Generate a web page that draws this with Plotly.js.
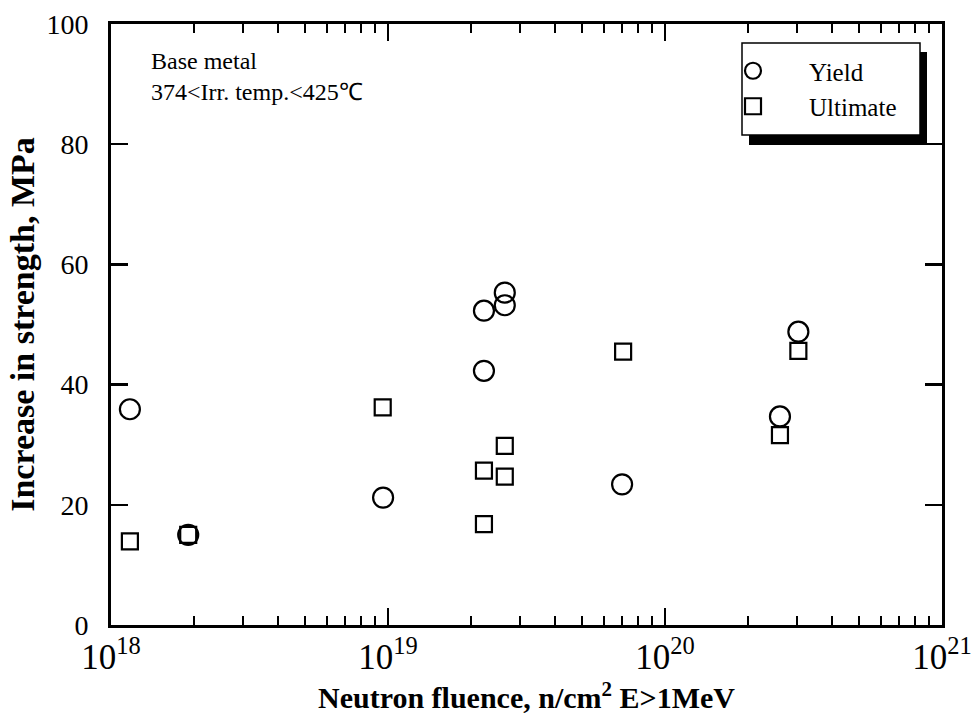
<!DOCTYPE html>
<html>
<head>
<meta charset="utf-8">
<script src="https://cdn.plot.ly/plotly-3.0.1.min.js"></script>
<style>html,body{margin:0;padding:0;background:#fff;}#chart{width:971px;height:716px;}</style>
</head>
<body>
<div id="chart"></div>
<script>
// Data
const yieldFluence = [1.17e18, 1.9e18, 9.6e18, 2.22e19, 2.22e19, 2.64e19, 2.64e19, 7.0e19, 2.6e20, 3.03e20];
const yieldIncrease = [35.9, 15.0, 21.2, 52.3, 42.3, 55.3, 53.2, 23.4, 34.7, 48.8];
const ultimateFluence = [1.17e18, 1.9e18, 9.57e18, 2.22e19, 2.22e19, 2.64e19, 2.64e19, 7.06e19, 2.6e20, 3.03e20];
const ultimateIncrease = [13.9, 15.0, 36.2, 25.7, 16.8, 29.8, 24.7, 45.5, 31.6, 45.6];
const seriesNames = ["Yield", "Ultimate"];
const noteLines = ["Base metal", "374<Irr. temp.<425℃"];

const serif = "Liberation Serif, Times New Roman, serif";

const traces = [
  {
    x: yieldFluence, y: yieldIncrease, name: seriesNames[0], legendgroup: "a",
    type: "scatter", mode: "markers",
    marker: {symbol: "circle-open", size: 20, color: "#000", line: {width: 2.2, color: "#000"}}
  },
  {
    x: ultimateFluence, y: ultimateIncrease, name: seriesNames[1], legendgroup: "b",
    type: "scatter", mode: "markers",
    marker: {symbol: "square-open", size: 16, color: "#000", line: {width: 2.2, color: "#000"}}
  }
];

// pixel -> paper helpers for the legend frame
const L = 111, R = 942, T = 24, B = 625;
const px = v => (v - L) / (R - L);
const py = v => (B - v) / (B - T);

const layout = {
  width: 971, height: 716,
  margin: {l: L, r: 971 - R, t: T, b: 716 - B},
  paper_bgcolor: "#fff", plot_bgcolor: "#fff",
  font: {family: serif, color: "#000"},
  showlegend: true,
  xaxis: {
    type: "log", range: [18, 21], dtick: 1, exponentformat: "power",
    showgrid: false, zeroline: false,
    showline: true, linewidth: 3, linecolor: "#000", mirror: "ticks",
    ticks: "inside", ticklen: 17, tickwidth: 2.5, tickcolor: "#000",
    minor: {dtick: "D1", ticks: "inside", ticklen: 9, tickwidth: 2, tickcolor: "#000", showgrid: false},
    tickfont: {family: serif, size: 28, color: "#000"},
    ticklabelstandoff: 0, ticklabeloverflow: "allow",
    title: {text: "<b>Neutron fluence, n/cm<sup>2</sup> E>1MeV</b>", font: {family: serif, size: 30, color: "#000"}, standoff: 2}
  },
  yaxis: {
    range: [0, 100], dtick: 20, showgrid: false, zeroline: false,
    showline: true, linewidth: 3, linecolor: "#000", mirror: "ticks",
    ticks: "inside", ticklen: 17, tickwidth: 2.5, tickcolor: "#000",
    tickfont: {family: serif, size: 28, color: "#000"},
    ticklabelstandoff: 14, ticklabeloverflow: "allow",
    title: {text: "<b>Increase in strength, MPa</b>", font: {family: serif, size: 34, color: "#000"}, standoff: 2}
  },
  legend: {
    x: px(697), y: py(48), xanchor: "left", yanchor: "top",
    bgcolor: "rgba(0,0,0,0)", borderwidth: 0,
    font: {family: serif, size: 25, color: "#000"},
    itemwidth: 102, tracegroupgap: 0
  },
  shapes: [
    {type: "rect", xref: "paper", yref: "paper", x0: px(749), x1: px(927), y0: py(52), y1: py(145),
     fillcolor: "#000", line: {width: 0}, layer: "above"},
    {type: "rect", xref: "paper", yref: "paper", x0: px(742), x1: px(920), y0: py(43), y1: py(135),
     fillcolor: "#fff", line: {width: 1.5, color: "#000"}, layer: "above"}
  ],
  annotations: [
    {xref: "paper", yref: "paper", x: px(149), y: py(46), xanchor: "left", yanchor: "top",
     text: noteLines.join("<br>"), align: "left", showarrow: false,
     font: {family: serif, size: 24, color: "#000"}}
  ]
};

Plotly.newPlot("chart", traces, layout, {staticPlot: true, displayModeBar: false});
</script>
</body>
</html>
